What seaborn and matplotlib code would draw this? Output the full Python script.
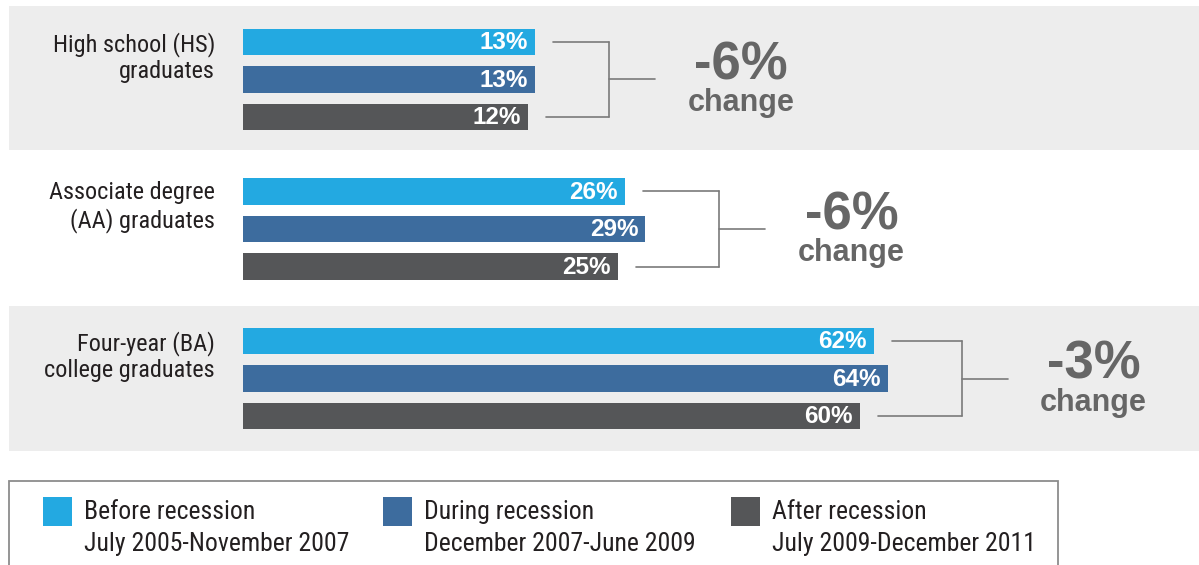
import matplotlib
matplotlib.use("Agg")
import matplotlib.pyplot as plt
from matplotlib import font_manager
from matplotlib.patches import Rectangle
import seaborn as sns
import pandas as pd

# ---------------- data ----------------
groups = ["High school (HS)\ngraduates",
          "Associate degree\n(AA) graduates",
          "Four-year (BA)\ncollege graduates"]
periods = ["Before recession", "During recession", "After recession"]
period_dates = ["July 2005-November 2007", "December 2007-June 2009",
                "July 2009-December 2011"]
before = [13, 26, 62]
during = [13, 29, 64]
after = [12, 25, 60]
changes = ["-6%", "-6%", "-3%"]
colors = ["#23A9E1", "#3D6C9E", "#555658"]

# ---------------- fonts ----------------
sns.set_theme(style="white")
names = {f.name for f in font_manager.fontManager.ttflist}
NARROW = next((n for n in ["Roboto Condensed", "Archivo Narrow",
                           "Barlow Semi Condensed"] if n in names), "DejaVu Sans")
BOLD = "Liberation Sans" if "Liberation Sans" in names else "DejaVu Sans"
plt.rcParams["font.family"] = [BOLD, "DejaVu Sans"]

W, H = 1199, 565
fig = plt.figure(figsize=(W / 100, H / 100), dpi=100)
fig.patch.set_facecolor("white")

def fx(px):
    return px / W

def fy(py):
    return 1 - py / H

# background bands (rows 1 and 3)
for top, bot in [(6, 150), (306, 451)]:
    fig.add_artist(Rectangle((fx(9), fy(bot)), fx(W) - fx(9), fy(top) - fy(bot),
                             transform=fig.transFigure, facecolor="#EDEDED",
                             edgecolor="none", zorder=-5))

ax = fig.add_axes([0, 0, 1, 1])
ax.set_zorder(1)

df = pd.DataFrame({
    "group": groups * 3,
    "period": [periods[0]] * 3 + [periods[1]] * 3 + [periods[2]] * 3,
    "value": before + during + after,
})
palette = dict(zip(periods, colors))
sns.barplot(data=df, x="value", y="group", hue="period", order=groups,
            hue_order=periods, orient="h", palette=palette, width=0.753,
            gap=0.283, saturation=1, legend=False, linewidth=0,
            edgecolor="none", ax=ax)

# layout scale: pixels per unit and origin
PXU = 6.92
X0 = 444.8
ax.set_xlim((0 - X0) / PXU, (W - X0) / PXU)
ax.set_ylim((H - 79.5) / 149.5, (0 - 79.5) / 149.5)
ax.set_axis_off()

BASE = (243 - X0) / PXU  # bars start left of zero to leave room (infographic style)

bar_info = {}
for p in ax.patches:
    if p.get_width() == 0:
        continue
    end = p.get_x() + p.get_width()
    p.set_x(BASE)
    p.set_width(end - BASE)
    p.set_linewidth(0)
    yc = p.get_y() + p.get_height() / 2
    gi = int(round(yc))
    bar_info.setdefault(gi, []).append((yc, end))
    ax.text(end - 7 / PXU, yc + 0.005, f"{end:.0f}%", ha="right", va="center",
            color="white", fontsize=17.5, fontweight="bold", family=BOLD)

# group labels
for i, g in enumerate(groups):
    ax.text((215 - X0) / PXU, i - 22 / 149.5, g, ha="right", va="center",
            multialignment="right", fontsize=17.5, family=NARROW,
            color="#231F20", linespacing=1.2)

# brackets & change text
lc = "#7A7A7A"
for i in range(len(groups)):
    bars = sorted(bar_info[i])
    (ytop, etop), (ymid, emid), (ybot, ebot) = bars
    vx = max(etop, emid, ebot) + 74 / PXU
    pad = 18 / PXU
    ax.plot([etop + pad, vx], [ytop, ytop], color=lc, lw=1.2)
    ax.plot([ebot + pad, vx], [ybot, ybot], color=lc, lw=1.2)
    ax.plot([vx, vx], [ytop, ybot], color=lc, lw=1.2)
    tick_end = vx + 46 / PXU
    ax.plot([vx, tick_end], [ymid, ymid], color=lc, lw=1.2)
    cx = tick_end + 86 / PXU
    ax.text(cx, i - 14 / 149.5, changes[i], ha="center", va="center",
            fontsize=38, fontweight="bold", color="#666666", family=BOLD)
    ax.text(cx, i + 24 / 149.5, "change", ha="center", va="center",
            fontsize=22, fontweight="bold", color="#666666", family=BOLD)

# legend box
fig.add_artist(Rectangle((fx(9), fy(H + 5)), fx(1058) - fx(9), fy(481) - fy(H + 5),
                         transform=fig.transFigure, facecolor="white",
                         edgecolor="#8C8C8C", lw=1.3, zorder=2))
for sqx, txx, c, lab, dates in zip([43, 383, 731], [84, 424, 772], colors,
                                   periods, period_dates):
    fig.add_artist(Rectangle((fx(sqx), fy(526)), fx(29), fy(497) - fy(526),
                             transform=fig.transFigure, facecolor=c,
                             edgecolor="none", zorder=3))
    fig.text(fx(txx), fy(512), lab, ha="left", va="center", fontsize=18.5,
             family=NARROW, color="#231F20", zorder=3)
    fig.text(fx(txx), fy(544), dates, ha="left", va="center", fontsize=18.5,
             family=NARROW, color="#231F20", zorder=3)

fig.savefig("out.png", dpi=100, facecolor="white")
